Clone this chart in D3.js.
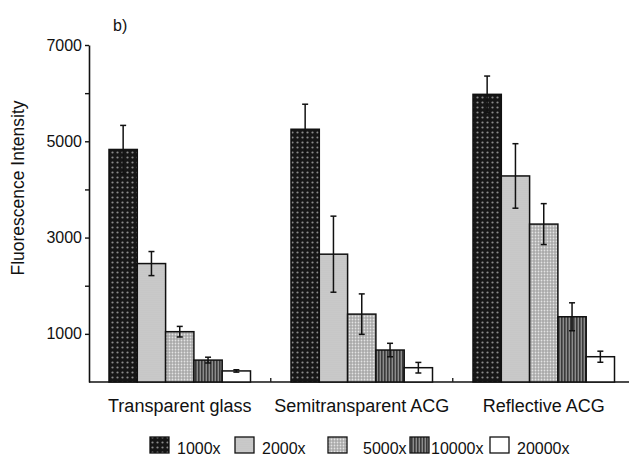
<!DOCTYPE html>
<html>
<head>
<meta charset="utf-8">
<script src="https://cdn.jsdelivr.net/npm/d3@7"></script>
<style>
  body { margin: 0; background: #fff; }
  svg { display: block; font-family: "Liberation Sans", Arial, sans-serif; }
</style>
</head>
<body>
<div id="chart"></div>
<script>
const width = 629;
const height = 459;

// data
const categories = ["Transparent glass", "Semitransparent ACG", "Reflective ACG"];
const seriesNames = ["1000x", "2000x", "5000x", "10000x", "20000x"];
const means = {
  "1000x":  [4830, 5250, 5975],
  "2000x":  [2460, 2655, 4280],
  "5000x":  [1045, 1410, 3280],
  "10000x": [455, 664, 1355],
  "20000x": [230, 297, 525]
};
const errors = {
  "1000x":  [500, 520, 380],
  "2000x":  [250, 790, 670],
  "5000x":  [110, 420, 425],
  "10000x": [60, 140, 290],
  "20000x": [25, 110, 115]
};
const yTicks = [1000, 2000, 3000, 4000, 5000, 6000, 7000];
const yLabelTicks = [1000, 3000, 5000, 7000];

const axisX = 89;
const svg = d3.select("#chart").append("svg")
  .attr("width", width)
  .attr("height", height);

// fill patterns
const defs = svg.append("defs");
function dotPattern(id, bg, dot, size, r) {
  const p = defs.append("pattern").attr("id", id)
    .attr("patternUnits", "userSpaceOnUse")
    .attr("width", size).attr("height", size);
  p.append("rect").attr("width", size).attr("height", size).attr("fill", bg);
  p.append("circle").attr("cx", size / 2).attr("cy", size / 2).attr("r", r).attr("fill", dot);
}
dotPattern("p1000", "#161616", "#8a8a8a", 5, 1.1);
dotPattern("p2000", "#c4c4c4", "#d6d6d6", 2, 0.6);
dotPattern("p5000", "#a9a9a9", "#e4e4e4", 3, 0.9);
const stripes = defs.append("pattern").attr("id", "p10000")
  .attr("patternUnits", "userSpaceOnUse").attr("width", 3).attr("height", 3);
stripes.append("rect").attr("width", 3).attr("height", 3).attr("fill", "#8c8c8c");
stripes.append("rect").attr("width", 1.6).attr("height", 3).attr("fill", "#3a3a3a");
const fills = {
  "1000x": "url(#p1000)", "2000x": "url(#p2000)", "5000x": "url(#p5000)",
  "10000x": "url(#p10000)", "20000x": "#ffffff"
};

// scales
const y = d3.scaleLinear().domain([0, 7000]).range([382, 45]);
const x0 = d3.scaleBand().domain(categories)
  .range([109, 614.5]).paddingInner(0.2225).paddingOuter(0);
const x1 = d3.scaleBand().domain(seriesNames).range([0, x0.bandwidth()]);

// y axis
const yAxis = d3.axisLeft(y)
  .tickValues(yTicks)
  .tickSize(4)
  .tickSizeOuter(0)
  .tickPadding(3)
  .tickFormat(d => yLabelTicks.includes(d) ? d : "");
const yg = svg.append("g")
  .attr("transform", `translate(${axisX},0)`)
  .call(yAxis);
yg.select(".domain").attr("stroke", "#111").attr("stroke-width", 1.6);
yg.selectAll(".tick line").attr("stroke", "#111").attr("stroke-width", 1.4);
yg.selectAll(".tick text").attr("font-size", 16).attr("fill", "#111")
  .attr("font-family", "Liberation Sans, Arial, sans-serif");

// x baseline with small marks between groups
svg.append("line")
  .attr("x1", axisX).attr("x2", width)
  .attr("y1", y(0)).attr("y2", y(0))
  .attr("stroke", "#111").attr("stroke-width", 1.6);
const gap = x0.step() - x0.bandwidth();
svg.selectAll("line.sep").data(categories.slice(0, -1))
  .join("line")
  .attr("class", "sep")
  .attr("x1", d => x0(d) + x0.bandwidth() + gap / 2)
  .attr("x2", d => x0(d) + x0.bandwidth() + gap / 2)
  .attr("y1", y(0)).attr("y2", y(0) - 4)
  .attr("stroke", "#222").attr("stroke-width", 1.4);

// bars
const rows = [];
seriesNames.forEach(s => {
  categories.forEach((c, i) => {
    rows.push({ cat: c, series: s, value: means[s][i], err: errors[s][i] });
  });
});

const bars = svg.append("g");
bars.selectAll("rect").data(rows)
  .join("rect")
  .attr("x", d => x0(d.cat) + x1(d.series))
  .attr("y", d => y(d.value))
  .attr("width", x1.bandwidth())
  .attr("height", d => y(0) - y(d.value))
  .attr("fill", d => fills[d.series])
  .attr("stroke", "#111")
  .attr("stroke-width", 1.5);

// error bars
const capW = 3;
const eb = svg.append("g").attr("stroke", "#111").attr("stroke-width", 1.5);
rows.forEach(d => {
  const cx = x0(d.cat) + x1(d.series) + x1.bandwidth() / 2;
  const top = y(d.value + d.err);
  const bot = y(d.value - d.err);
  eb.append("line").attr("x1", cx).attr("x2", cx).attr("y1", top).attr("y2", bot);
  eb.append("line").attr("x1", cx - capW).attr("x2", cx + capW).attr("y1", top).attr("y2", top);
  eb.append("line").attr("x1", cx - capW).attr("x2", cx + capW).attr("y1", bot).attr("y2", bot);
});

// category labels
svg.selectAll("text.cat").data(categories)
  .join("text")
  .attr("class", "cat")
  .attr("x", d => x0(d) + x0.bandwidth() / 2)
  .attr("y", 412)
  .attr("text-anchor", "middle")
  .attr("font-size", 18)
  .attr("fill", "#111")
  .text(d => d);

// y title
svg.append("text")
  .attr("transform", "translate(24,188) rotate(-90)")
  .attr("text-anchor", "middle")
  .attr("font-size", 17.5)
  .attr("fill", "#111")
  .text("Fluorescence Intensity");

// panel label
svg.append("text")
  .attr("x", 113).attr("y", 31)
  .attr("font-size", 16)
  .attr("fill", "#111")
  .text("b)");

// legend
const swatchX = [150, 235, 328, 410, 490];
const labelX = [177, 262, 363, 431, 517];
const legend = svg.append("g");
seriesNames.forEach((s, i) => {
  legend.append("rect")
    .attr("x", swatchX[i]).attr("y", 437)
    .attr("width", 19).attr("height", 16)
    .attr("fill", fills[s])
    .attr("stroke", "#111").attr("stroke-width", 1.3);
  legend.append("text")
    .attr("x", labelX[i]).attr("y", 454)
    .attr("font-size", 16)
    .attr("fill", "#111")
    .text(s);
});
</script>
</body>
</html>
